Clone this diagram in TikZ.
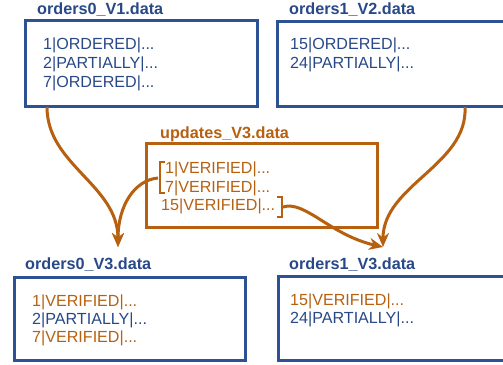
\documentclass[tikz,border=0pt]{standalone}
\usepackage{fontspec}
\setmainfont{Liberation Sans}
\usetikzlibrary{arrows.meta}
\definecolor{dblue}{RGB}{44,82,148}
\definecolor{tblue}{RGB}{40,72,135}
\definecolor{dorange}{RGB}{183,96,16}
\tikzset{
  box/.style={draw=dblue, line width=3pt, rectangle, inner sep=0pt},
  obox/.style={draw=dorange, line width=3pt, rectangle, inner sep=0pt},
  txt/.style={anchor=base west, inner sep=0pt, text=tblue, font=\fontsize{16.1}{18}\selectfont},
  otxt/.style={txt, text=dorange},
  ttl/.style={anchor=base west, inner sep=0pt, text=tblue, font=\bfseries\fontsize{16.2}{19}\selectfont},
  ottl/.style={ttl, text=dorange},
  conn/.style={draw=dorange, line width=3pt, -{Stealth[length=14pt,width=12pt]}},
  brk/.style={draw=dorange, line width=2.6pt},
}
\begin{document}
\begin{tikzpicture}[x=1pt,y=-1pt]
\useasboundingbox (0,0) rectangle (503,364);
\clip (0,0) rectangle (503,364);
\fill[white] (0,0) rectangle (503,364);
% top-left
\node[box, minimum width=232, minimum height=86] (b1) at (141,63) {};
\node[ttl] (t1) at (37,14) {orders0\_V1.data};
\node[txt] (l11) at (43,49) {1|ORDERED|...};
\node[txt] (l12) at (43,68) {2|PARTIALLY|...};
\node[txt] (l13) at (43,87) {7|ORDERED|...};
% top-right
\node[box, minimum width=243, minimum height=85] (b2) at (398.5,63.5) {};
\node[ttl] (t2) at (289,14) {orders1\_V2.data};
\node[txt] (l21) at (290,49) {15|ORDERED|...};
\node[txt] (l22) at (290,68) {24|PARTIALLY|...};
% updates
\node[obox, minimum width=231, minimum height=84] (bu) at (261.5,185) {};
\node[ottl] (tu) at (160,138) {updates\_V3.data};
\node[otxt] (lu1) at (165,173) {1|VERIFIED|...};
\node[otxt] (lu2) at (165,192) {7|VERIFIED|...};
\node[otxt] (lu3) at (161,210) {15|VERIFIED|...};
\draw[brk] (165,162) -- (160,162) -- (160,193) -- (165,193);
\draw[brk] (277,197) -- (282,197) -- (282,217) -- (277,217);
% bottom-left
\node[box, minimum width=231, minimum height=83] (b3) at (129.5,318.5) {};
\node[ttl] (t3) at (25,269) {orders0\_V3.data};
\node[otxt] (l31) at (32,306) {1|VERIFIED|...};
\node[txt] (l32) at (32,324) {2|PARTIALLY|...};
\node[otxt] (l33) at (32,342) {7|VERIFIED|...};
% bottom-right
\node[box, minimum width=242, minimum height=84] (b4) at (399,318) {};
\node[ttl] (t4) at (289,269) {orders1\_V3.data};
\node[otxt] (l41) at (290,305) {15|VERIFIED|...};
\node[txt] (l42) at (290,323) {24|PARTIALLY|...};
% connector end points
\coordinate (s1) at (47,107);
\coordinate (s2) at (158,178);
\coordinate (s3) at (465,107);
\coordinate (s4) at (283,207);
\coordinate (e1) at (118,247);
\coordinate (e2) at (383,247);
\draw[conn] (s1) .. controls (47,165) and (118,185) .. (e1);
\draw[conn] (s2) .. controls (135,180) and (118,205) .. (e1);
\draw[conn] (s3) .. controls (468,165) and (383,185) .. (e2);
\draw[conn] (s4) .. controls (305,200) and (330,235) .. (e2);
\end{tikzpicture}
\end{document}
